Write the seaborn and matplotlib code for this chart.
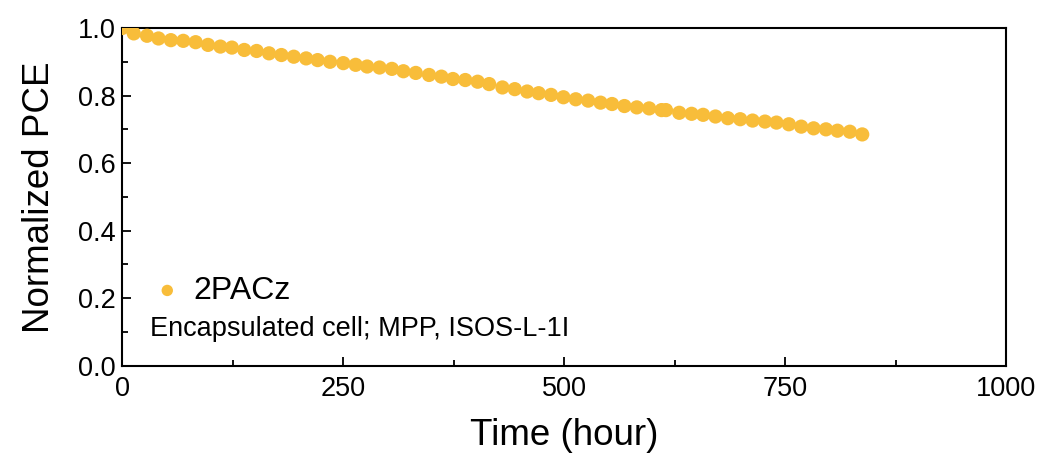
import numpy as np
import pandas as pd
import matplotlib
matplotlib.use("Agg")
import matplotlib.pyplot as plt
import seaborn as sns
from matplotlib.ticker import MultipleLocator

time_h = [0, 13, 28, 41, 55, 69, 83, 97, 111, 124, 138, 152, 166, 180, 194, 208,
          221, 235, 250, 264, 277, 291, 305, 318, 332, 347, 361, 374, 388, 402,
          415, 430, 444, 458, 471, 485, 499, 513, 527, 541, 554, 568, 582, 596,
          610, 615, 630, 644, 657, 671, 685, 699, 713, 727, 740, 754, 768, 782,
          796, 809, 823, 837]
pce = [1.000, 0.984, 0.977, 0.969, 0.964, 0.962, 0.958, 0.950, 0.945, 0.942,
       0.935, 0.932, 0.925, 0.920, 0.915, 0.910, 0.905, 0.900, 0.896, 0.891,
       0.886, 0.883, 0.879, 0.872, 0.867, 0.861, 0.856, 0.849, 0.846, 0.841,
       0.834, 0.824, 0.819, 0.812, 0.807, 0.802, 0.795, 0.789, 0.785, 0.779,
       0.775, 0.769, 0.765, 0.762, 0.757, 0.757, 0.749, 0.746, 0.743, 0.738,
       0.733, 0.730, 0.726, 0.723, 0.720, 0.715, 0.708, 0.703, 0.700, 0.696,
       0.693, 0.685]
series_name = "2PACz"
note = "Encapsulated cell; MPP, ISOS-L-1I"

sns.set_theme(style="ticks")
plt.rcParams['font.family'] = ['Liberation Sans', 'DejaVu Sans']
plt.rcParams.update({'text.color': 'black', 'axes.labelcolor': 'black',
                     'xtick.color': 'black', 'ytick.color': 'black'})

fig = plt.figure(figsize=(10.45, 4.59), dpi=100)
ax = fig.add_axes([0.117, 0.203, 0.846, 0.736])

df = pd.DataFrame({"Time": time_h, "PCE": pce})
sns.scatterplot(data=df, x="Time", y="PCE", ax=ax, color="#F8BD3A", s=105,
                edgecolor="none", label=series_name, zorder=3)

ax.set_xlim(0, 1000)
ax.set_ylim(0, 1.0)
ax.xaxis.set_major_locator(MultipleLocator(250))
ax.xaxis.set_minor_locator(MultipleLocator(125))
ax.yaxis.set_major_locator(MultipleLocator(0.2))
ax.yaxis.set_minor_locator(MultipleLocator(0.1))
ax.yaxis.set_major_formatter(matplotlib.ticker.FormatStrFormatter('%.1f'))
ax.tick_params(which='both', direction='in', top=False, right=False, width=1.3,
               colors='black', labelsize=19.5)
ax.tick_params(which='major', length=6.5)
ax.tick_params(which='minor', length=4)
ax.tick_params(axis='x', which='major', pad=7)
ax.tick_params(axis='y', which='major', pad=5)
for sp in ax.spines.values():
    sp.set_visible(True)
    sp.set_linewidth(1.5)
    sp.set_color('black')

ax.set_xlabel("Time (hour)", fontsize=26.5, labelpad=12)
ax.set_ylabel("Normalized PCE", fontsize=26.5, labelpad=15)

leg = ax.legend(loc='center left', bbox_to_anchor=(0.022, 0.222), frameon=False,
                fontsize=23, handletextpad=0.32, handlelength=1.0,
                borderaxespad=0.0, borderpad=0.3, markerscale=0.8)
ax.text(0.031, 0.108, note, transform=ax.transAxes, fontsize=19.5,
        va='center', ha='left', color='black')

fig.savefig("out.png", dpi=100)
